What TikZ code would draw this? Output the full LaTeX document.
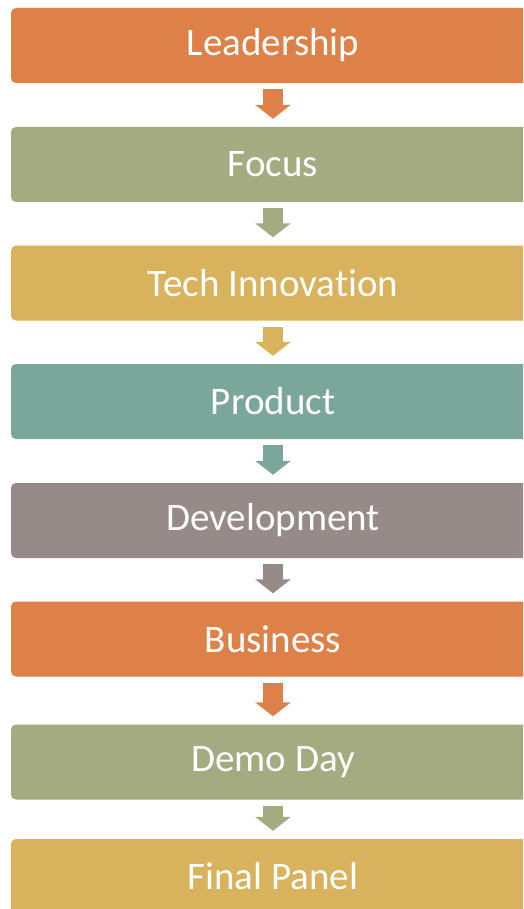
\documentclass[tikz,border=0pt]{standalone}
\usepackage{fontspec}
\setmainfont{Carlito}[Ligatures=NoCommon]
\usepackage{tikz}
\usepackage{xcolor}
\usetikzlibrary{positioning,arrows.meta}

\definecolor{cOrange}{HTML}{DE8148}
\definecolor{cSage}{HTML}{A5AB81}
\definecolor{cGold}{HTML}{D8B25C}
\definecolor{cTeal}{HTML}{7BA79A}
\definecolor{cMauve}{HTML}{968B89}

\tikzset{
  stage/.style={rectangle, rounded corners=5pt, minimum width=524pt, minimum height=75pt,
    inner sep=0pt, text=white, font=\fontsize{39}{42}\selectfont},
  flow/.style={line width=20pt, -{Triangle[width=35pt,length=14pt]},
    shorten <=6pt, shorten >=8pt}
}

\begin{document}
\begin{tikzpicture}[x=1pt, y=1pt]
        \useasboundingbox (0,0) rectangle (523,-909);
        \clip (0,0) rectangle (523,-909);

        % Draw the stages
        \node[stage, fill=cOrange] (lead) at (273,-45.5) {Leadership};
        \node[stage, fill=cSage] (focus) at (273,-164.5) {Focus};
        \node[stage, fill=cGold] (tech) at (273,-283) {Tech Innovation};
        \node[stage, fill=cTeal] (prod) at (273,-401.5) {Product};
        \node[stage, fill=cMauve] (dev) at (273,-520.5) {Development};
        \node[stage, fill=cOrange] (bus) at (273,-639) {Business};
        \node[stage, fill=cSage] (demo) at (273,-762) {Demo Day};
        \node[stage, fill=cGold] (panel) at (273,-876.5) {Final Panel};

        % Draw arrows
        \draw[flow, cOrange] (lead) -- (focus);
        \draw[flow, cSage] (focus) -- (tech);
        \draw[flow, cGold] (tech) -- (prod);
        \draw[flow, cTeal] (prod) -- (dev);
        \draw[flow, cMauve] (dev) -- (bus);
        \draw[flow, cOrange] (bus) -- (demo);
        \draw[flow, cSage] (demo) -- (panel);
      \end{tikzpicture}
\end{document}
